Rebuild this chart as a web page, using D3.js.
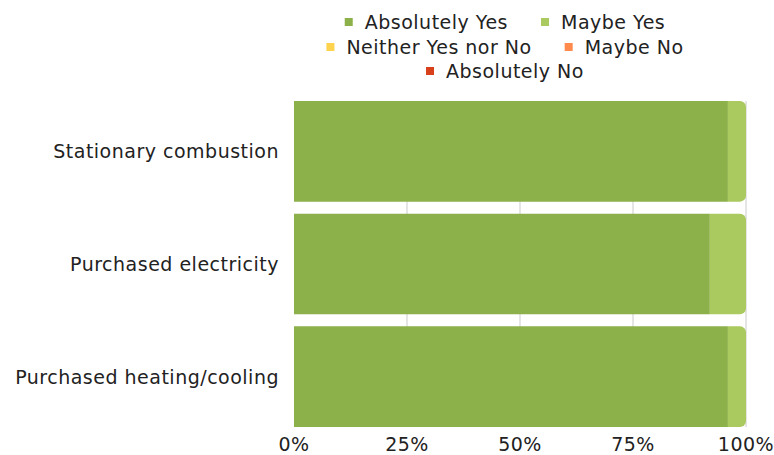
<!DOCTYPE html>
<html>
<head>
<meta charset="utf-8">
<script src="https://cdn.jsdelivr.net/npm/d3@7"></script>
<style>
  html, body { margin: 0; padding: 0; background: #fff; }
  svg { display: block; font-family: "DejaVu Sans", sans-serif; letter-spacing: 0.5px; }
</style>
</head>
<body>
<svg id="chart" width="774" height="455"></svg>
<script>
// Survey categories (top to bottom)
const categories = ["Stationary combustion", "Purchased electricity", "Purchased heating/cooling"];

// Answer options and their colours
const answers = ["Absolutely Yes", "Maybe Yes", "Neither Yes nor No", "Maybe No", "Absolutely No"];
const answerColors = ["#8db14a", "#aac95f", "#ffd34d", "#ff8a4c", "#d8401c"];

// Share of responses (%) per category, one array per answer
const absolutelyYes = [96, 92, 96];
const maybeYes = [4, 8, 4];
const neitherYesNorNo = [0, 0, 0];
const maybeNo = [0, 0, 0];
const absolutelyNo = [0, 0, 0];

const xTicks = [0, 25, 50, 75, 100];
const xTickLabels = ["0%", "25%", "50%", "75%", "100%"];

const seriesValues = [absolutelyYes, maybeYes, neitherYesNorNo, maybeNo, absolutelyNo];

const svg = d3.select("#chart");
const margin = { left: 294, right: 28, top: 101, bottom: 28 };
const W = 774, H = 455;
const fontSize = 19;

const x = d3.scaleLinear().domain([0, 100]).range([margin.left, W - margin.right]);
const y = d3.scaleBand().domain(categories).range([margin.top, H - margin.bottom]).paddingInner(0.107).paddingOuter(0);

// Vertical gridlines
svg.append("g").selectAll("line").data(xTicks.slice(1)).join("line")
  .attr("x1", d => x(d)).attr("x2", d => x(d))
  .attr("y1", margin.top).attr("y2", H - margin.bottom)
  .attr("stroke", "#dcdcdc").attr("stroke-width", 1.5);

// Stack the series
const rows = categories.map((c, i) => {
  const r = { category: c };
  answers.forEach((a, j) => { r[a] = seriesValues[j][i]; });
  return r;
});
const stacked = d3.stack().keys(answers)(rows);

const radius = 6;
function segPath(x0, x1, y0, h, roundRight) {
  const w = x1 - x0;
  if (!roundRight) return `M${x0},${y0}h${w}v${h}h${-w}Z`;
  const r = Math.min(radius, w, h / 2);
  return `M${x0},${y0}h${w - r}a${r},${r} 0 0 1 ${r},${r}v${h - 2 * r}a${r},${r} 0 0 1 ${-r},${r}h${-(w - r)}Z`;
}

stacked.forEach((layer, j) => {
  svg.append("g").selectAll("path").data(layer.filter(d => d[1] - d[0] > 0)).join("path")
    .attr("d", d => {
      const ci = rows.indexOf(d.data);
      // the last non-empty segment of each bar gets rounded right corners
      const isLast = stacked.slice(j + 1).every(l => l[ci][1] - l[ci][0] === 0);
      return segPath(x(d[0]), x(d[1]), y(d.data.category), y.bandwidth(), isLast);
    })
    .attr("fill", answerColors[j]);
});

// Category labels
svg.append("g").selectAll("text").data(categories).join("text")
  .attr("x", 279).attr("y", d => y(d) + y.bandwidth() / 2)
  .attr("text-anchor", "end").attr("dominant-baseline", "central")
  .attr("font-size", fontSize).attr("fill", "#222").text(d => d);

// X axis labels
svg.append("g").selectAll("text").data(xTicks).join("text")
  .attr("x", d => x(d)).attr("y", 451)
  .attr("text-anchor", "middle")
  .attr("font-size", fontSize).attr("fill", "#222")
  .text((d, i) => xTickLabels[i]);

// Legend
const legendRows = [[0, 1], [2, 3], [4]];
const legendCenter = 505;
const legendY = [22, 47, 71];
const itemGap = 33, sw = 8, swGap = 12;
legendRows.forEach((row, ri) => {
  const g = svg.append("g");
  const items = row.map(k => {
    const t = g.append("text").attr("font-size", fontSize).attr("fill", "#222")
      .attr("dominant-baseline", "central").attr("y", legendY[ri]).text(answers[k]);
    return { k, t, w: t.node().getComputedTextLength() };
  });
  const total = d3.sum(items, d => sw + swGap + d.w) + itemGap * (items.length - 1);
  let cx = legendCenter - total / 2;
  items.forEach(it => {
    g.append("rect").attr("x", cx).attr("y", legendY[ri] - sw / 2).attr("width", sw).attr("height", sw)
      .attr("fill", answerColors[it.k]);
    it.t.attr("x", cx + sw + swGap);
    cx += sw + swGap + it.w + itemGap;
  });
});
</script>
</body>
</html>
